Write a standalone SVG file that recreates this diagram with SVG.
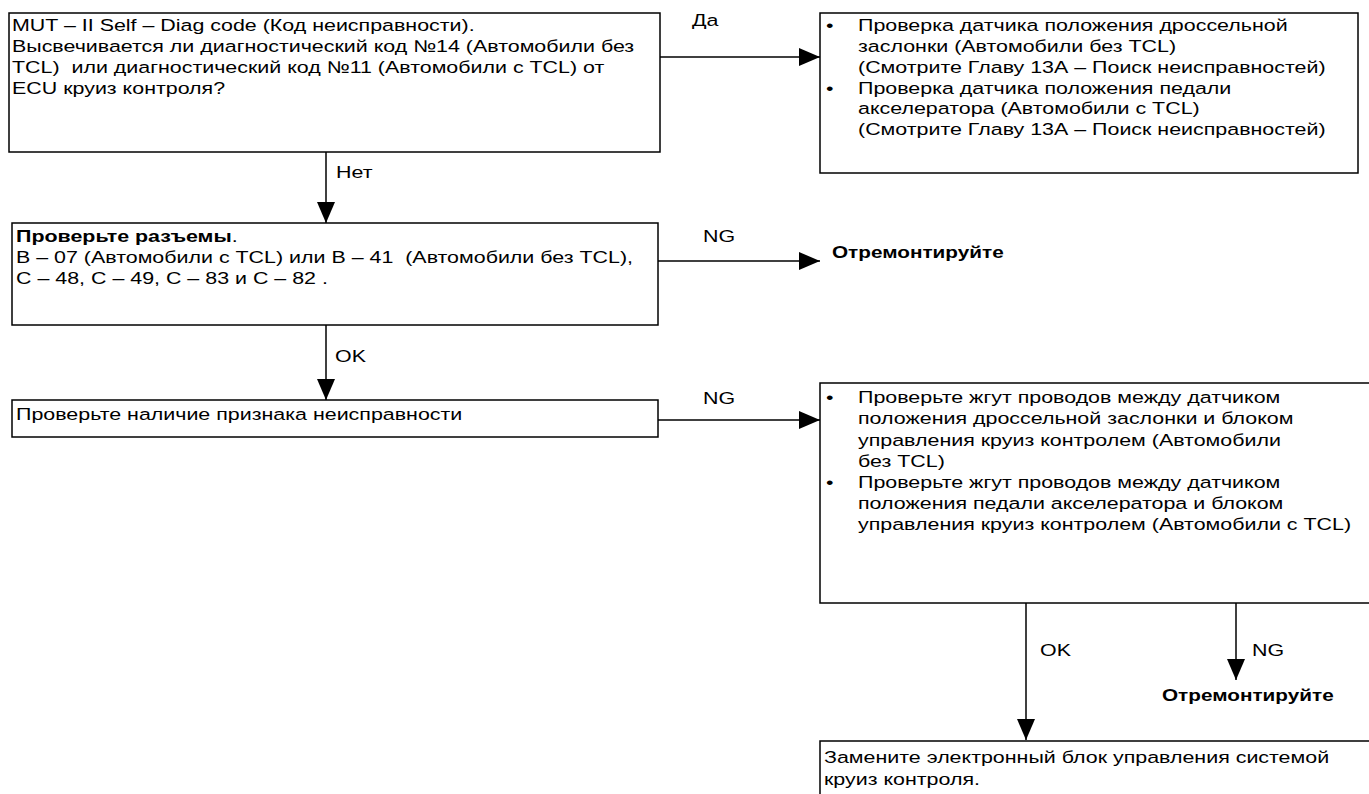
<svg xmlns="http://www.w3.org/2000/svg" width="1369" height="794" viewBox="0 0 1369 794">
<style>
text{font-family:"Liberation Sans",Arial,sans-serif;font-size:17px;fill:#000;white-space:pre}
.b{font-weight:bold}
.box{fill:#fff;stroke:#000;stroke-width:1.5}
.ln{stroke:#000;stroke-width:1.5;fill:none}
</style>
<defs>
<marker id="ah" markerUnits="userSpaceOnUse" markerWidth="22" markerHeight="20" refX="21" refY="10" orient="auto">
<path d="M0,1 L21,10 L0,19 Z" fill="#000"/>
</marker>
</defs>
<rect width="1369" height="794" fill="#fff"/>
<g id="connectors">
<path class="ln" d="M660,57 H820" marker-end="url(#ah)"/>
<path class="ln" d="M326,152 V223" marker-end="url(#ah)"/>
<path class="ln" d="M658,261 H820" marker-end="url(#ah)"/>
<path class="ln" d="M326,325 V400" marker-end="url(#ah)"/>
<path class="ln" d="M658,420 H820" marker-end="url(#ah)"/>
<path class="ln" d="M1026,603 V740" marker-end="url(#ah)"/>
<path class="ln" d="M1236,603 V680" marker-end="url(#ah)"/>
<text transform="matrix(1.26,0,0,1,692,26)">Да</text>
<text transform="matrix(1.26,0,0,1,336,178)">Нет</text>
<text transform="matrix(1.26,0,0,1,703,242)">NG</text>
<text transform="matrix(1.26,0,0,1,335,362)">OK</text>
<text transform="matrix(1.26,0,0,1,703,404)">NG</text>
<text transform="matrix(1.26,0,0,1,1040,656)">OK</text>
<text transform="matrix(1.26,0,0,1,1252,656)">NG</text>
</g>
<g id="n1">
<rect class="box" x="9" y="13" width="651" height="139"/>
<text transform="matrix(1.26,0,0,1,12,31)">MUT – II Self – Diag code (Код неисправности).</text>
<text transform="matrix(1.26,0,0,1,12,52)">Высвечивается ли диагностический код №14 (Автомобили без</text>
<text transform="matrix(1.26,0,0,1,12,73)">TCL)  или диагностический код №11 (Автомобили с TCL) от</text>
<text transform="matrix(1.26,0,0,1,12,94)">ECU круиз контроля?</text>
</g>
<g id="n2">
<rect class="box" x="820" y="13" width="538" height="160"/>
<text transform="matrix(1.26,0,0,1,826,31)">•</text><text transform="matrix(1.26,0,0,1,858,31)">Проверка датчика положения дроссельной</text>
<text transform="matrix(1.26,0,0,1,858,52)">заслонки (Автомобили без TCL)</text>
<text transform="matrix(1.26,0,0,1,858,73)">(Смотрите Главу 13А – Поиск неисправностей)</text>
<text transform="matrix(1.26,0,0,1,826,94)">•</text><text transform="matrix(1.26,0,0,1,858,94)">Проверка датчика положения педали</text>
<text transform="matrix(1.26,0,0,1,858,114)">акселератора (Автомобили с TCL)</text>
<text transform="matrix(1.26,0,0,1,858,135)">(Смотрите Главу 13А – Поиск неисправностей)</text>
</g>
<g id="n3">
<rect class="box" x="12" y="223" width="646" height="102"/>
<text transform="matrix(1.26,0,0,1,16,242)"><tspan class="b">Проверьте разъемы</tspan>.</text>
<text transform="matrix(1.26,0,0,1,16,263)">В – 07 (Автомобили с TCL) или В – 41  (Автомобили без TCL),</text>
<text transform="matrix(1.26,0,0,1,16,284)">С – 48, С – 49, С – 83 и С – 82 .</text>
</g>
<g id="n4">
<text class="b" transform="matrix(1.22,0,0,1,832,258)">Отремонтируйте</text>
</g>
<g id="n5">
<rect class="box" x="12" y="400" width="646" height="37"/>
<text transform="matrix(1.26,0,0,1,16,420)">Проверьте наличие признака неисправности</text>
</g>
<g id="n6">
<rect class="box" x="820" y="383" width="560" height="220"/>
<text transform="matrix(1.26,0,0,1,826,403)">•</text><text transform="matrix(1.26,0,0,1,858,403)">Проверьте жгут проводов между датчиком</text>
<text transform="matrix(1.26,0,0,1,858,424)">положения дроссельной заслонки и блоком</text>
<text transform="matrix(1.26,0,0,1,858,446)">управления круиз контролем (Автомобили</text>
<text transform="matrix(1.26,0,0,1,858,467)">без TCL)</text>
<text transform="matrix(1.26,0,0,1,826,488)">•</text><text transform="matrix(1.26,0,0,1,858,488)">Проверьте жгут проводов между датчиком</text>
<text transform="matrix(1.26,0,0,1,858,509)">положения педали акселератора и блоком</text>
<text transform="matrix(1.26,0,0,1,858,530)">управления круиз контролем (Автомобили с TCL)</text>
</g>
<g id="n7">
<text class="b" transform="matrix(1.22,0,0,1,1162,701)">Отремонтируйте</text>
</g>
<g id="n8">
<rect class="box" x="820" y="741" width="560" height="70"/>
<text transform="matrix(1.26,0,0,1,824,763)">Замените электронный блок управления системой</text>
<text transform="matrix(1.26,0,0,1,824,785)">круиз контроля.</text>
</g>
</svg>
